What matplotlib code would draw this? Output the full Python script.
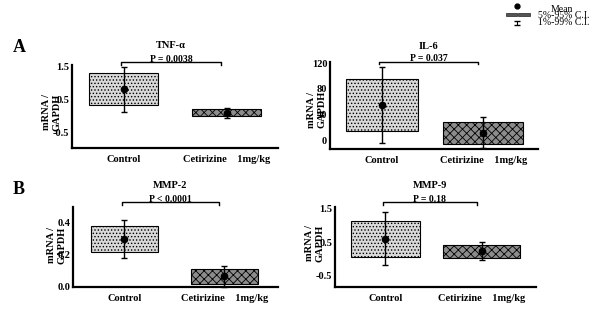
import matplotlib
matplotlib.use("Agg")
import matplotlib.pyplot as plt
from matplotlib.patches import Rectangle
import matplotlib.transforms as mtransforms

plt.rcParams['font.family'] = ['Liberation Serif', 'DejaVu Serif']
plt.rcParams['hatch.linewidth'] = 0.6

# data: [control, cetirizine]
groups = ["Control", "Cetirizine    1mg/kg"]
titles = ["TNF-\u03b1", "IL-6", "MMP-2", "MMP-9"]
p_texts = ["P = 0.0038", "P = 0.037", "P < 0.0001", "P = 0.18"]

tnf_box = [(0.34, 1.29), (0.0, 0.22)]
tnf_mean = [0.81, 0.10]
tnf_whisk = [(0.13, 1.47), (-0.05, 0.25)]

il6_box = [(14, 95), (-6, 28)]
il6_mean = [54, 11]
il6_whisk = [(-5, 114), (-12, 36)]

mmp2_box = [(0.22, 0.38), (0.02, 0.11)]
mmp2_mean = [0.30, 0.07]
mmp2_whisk = [(0.18, 0.42), (0.0, 0.13)]

mmp9_box = [(0.05, 1.13), (0.03, 0.42)]
mmp9_mean = [0.60, 0.24]
mmp9_whisk = [(-0.20, 1.40), (-0.05, 0.50)]

yticks = [[-0.5, 0.5, 1.5], [0, 40, 80, 120], [0.0, 0.2, 0.4], [-0.5, 0.5, 1.5]]
ytick_labels = [["-0.5", "0.5", "1.5"], ["0", "40", "80", "120"],
                ["0.0", "0.2", "0.4"], ["-0.5", "0.5", "1.5"]]
ylims = [(-0.95, 1.53), (-14, 122), (0, 0.5), (-0.86, 1.56)]

W, H = 600, 309
fig = plt.figure(figsize=(6, 3.09), dpi=100)

# pixel boxes of each axes: x0, x1, ytop, ybottom
rects = [(72, 278, 65, 148), (330, 538, 62, 149), (73, 278, 207, 287), (335, 536, 207, 287)]
# pixel y of bracket, p-value text, title
label_y = [(62, 59, 45), (62, 59, 47), (202, 199, 185), (202, 199, 185)]
ylab_pos = [(-0.10, 0.43), (-0.065, 0.45), (-0.08, 0.52), (-0.10, 0.55)]
widths = [(1.34, 1.34), (1.37, 1.54), (1.31, 1.31), (1.37, 1.53)]
positions = [(1, 3), (1, 2.95), (1, 2.95), (1, 2.92)]

boxes = [tnf_box, il6_box, mmp2_box, mmp9_box]
means = [tnf_mean, il6_mean, mmp2_mean, mmp9_mean]
whisks = [tnf_whisk, il6_whisk, mmp2_whisk, mmp9_whisk]

fills = [dict(facecolor='#d9d9d9', hatch='.....'), dict(facecolor='#8c8c8c', hatch='xxxx')]

for i in range(4):
    x0, x1, yt, yb = rects[i]
    ax = fig.add_axes([x0 / W, 1 - yb / H, (x1 - x0) / W, (yb - yt) / H])
    ax.set_xlim(0, 4)
    ax.set_ylim(*ylims[i])
    for s in ['top', 'right']:
        ax.spines[s].set_visible(False)
    for s in ['left', 'bottom']:
        ax.spines[s].set_linewidth(1.6)
    ax.set_yticks(yticks[i])
    ax.set_yticklabels(ytick_labels[i], fontweight='bold', fontsize=7.5)
    ax.set_xticks(positions[i])
    ax.set_xticklabels(groups, fontweight='bold', fontsize=7.5)
    ax.tick_params(length=0, pad=2)
    ax.tick_params(axis='x', pad=5)
    ax.patch.set_alpha(0)

    for j in range(2):
        lo, hi = boxes[i][j]
        w = widths[i][j]
        xc = positions[i][j]
        ax.add_patch(Rectangle((xc - w / 2, lo), w, hi - lo, edgecolor='black',
                               linewidth=0.8, **fills[j]))
        wl, wh = whisks[i][j]
        m = means[i][j]
        ax.errorbar([xc], [m], yerr=[[m - wl], [wh - m]], fmt='o', color='black',
                    markersize=4.5, capsize=2.5, elinewidth=1.0, capthick=1.0,
                    clip_on=False, zorder=5)

    # bracket and labels
    hpx = yb - yt
    trans = mtransforms.blended_transform_factory(ax.transData, ax.transAxes)
    by = 1 + (yt - label_y[i][0]) / hpx
    bx0, bx1 = positions[i][0] - 0.05, positions[i][1] - 0.1
    ax.plot([bx0, bx0, bx1, bx1], [by - 2.5 / hpx, by, by, by - 2.5 / hpx], color='black',
            linewidth=1.0, transform=trans, clip_on=False)
    ty = 1 + (yt - label_y[i][1]) / hpx
    ax.text((bx0 + bx1) / 2, ty, p_texts[i], transform=trans, ha='center', va='center',
            fontsize=7, fontweight='bold')
    ty2 = 1 + (yt - label_y[i][2]) / hpx
    ax.text((bx0 + bx1) / 2, ty2, titles[i], transform=trans, ha='center', va='center',
            fontsize=7.5, fontweight='bold')
    ax.text(ylab_pos[i][0], ylab_pos[i][1], "mRNA /\nGAPDH", transform=ax.transAxes,
            rotation=90, ha='center', va='center', fontsize=7.5, fontweight='bold')

fig.text(13 / W, 1 - 47 / H, "A", fontsize=13, fontweight='bold', ha='left', va='center')
fig.text(13 / W, 1 - 190 / H, "B", fontsize=13, fontweight='bold', ha='left', va='center')

# legend
lax = fig.add_axes([0, 0, 1, 1])
lax.set_xlim(0, W)
lax.set_ylim(H, 0)
lax.axis('off')
lax.patch.set_alpha(0)
lax.plot([517], [6], 'o', color='black', markersize=3.5)
lax.add_patch(Rectangle((506, 12.5), 11, 3, facecolor='#555555', edgecolor='black', linewidth=0.4))
lax.add_patch(Rectangle((518, 12.5), 12, 3, facecolor='#555555', edgecolor='black', linewidth=0.4))
lax.errorbar([517], [22.5], yerr=[[2], [2]], fmt='none', color='black', capsize=2.5,
             elinewidth=0.8, capthick=1.0)
lax.text(551, 9.5, "Mean", fontsize=7, va='center', ha='left')
lax.text(538, 16, "5%-95% C.I.", fontsize=7, va='center', ha='left')
lax.text(538, 22.5, "1%-99% C.I.", fontsize=7, va='center', ha='left')

fig.savefig("out.png", dpi=100)
